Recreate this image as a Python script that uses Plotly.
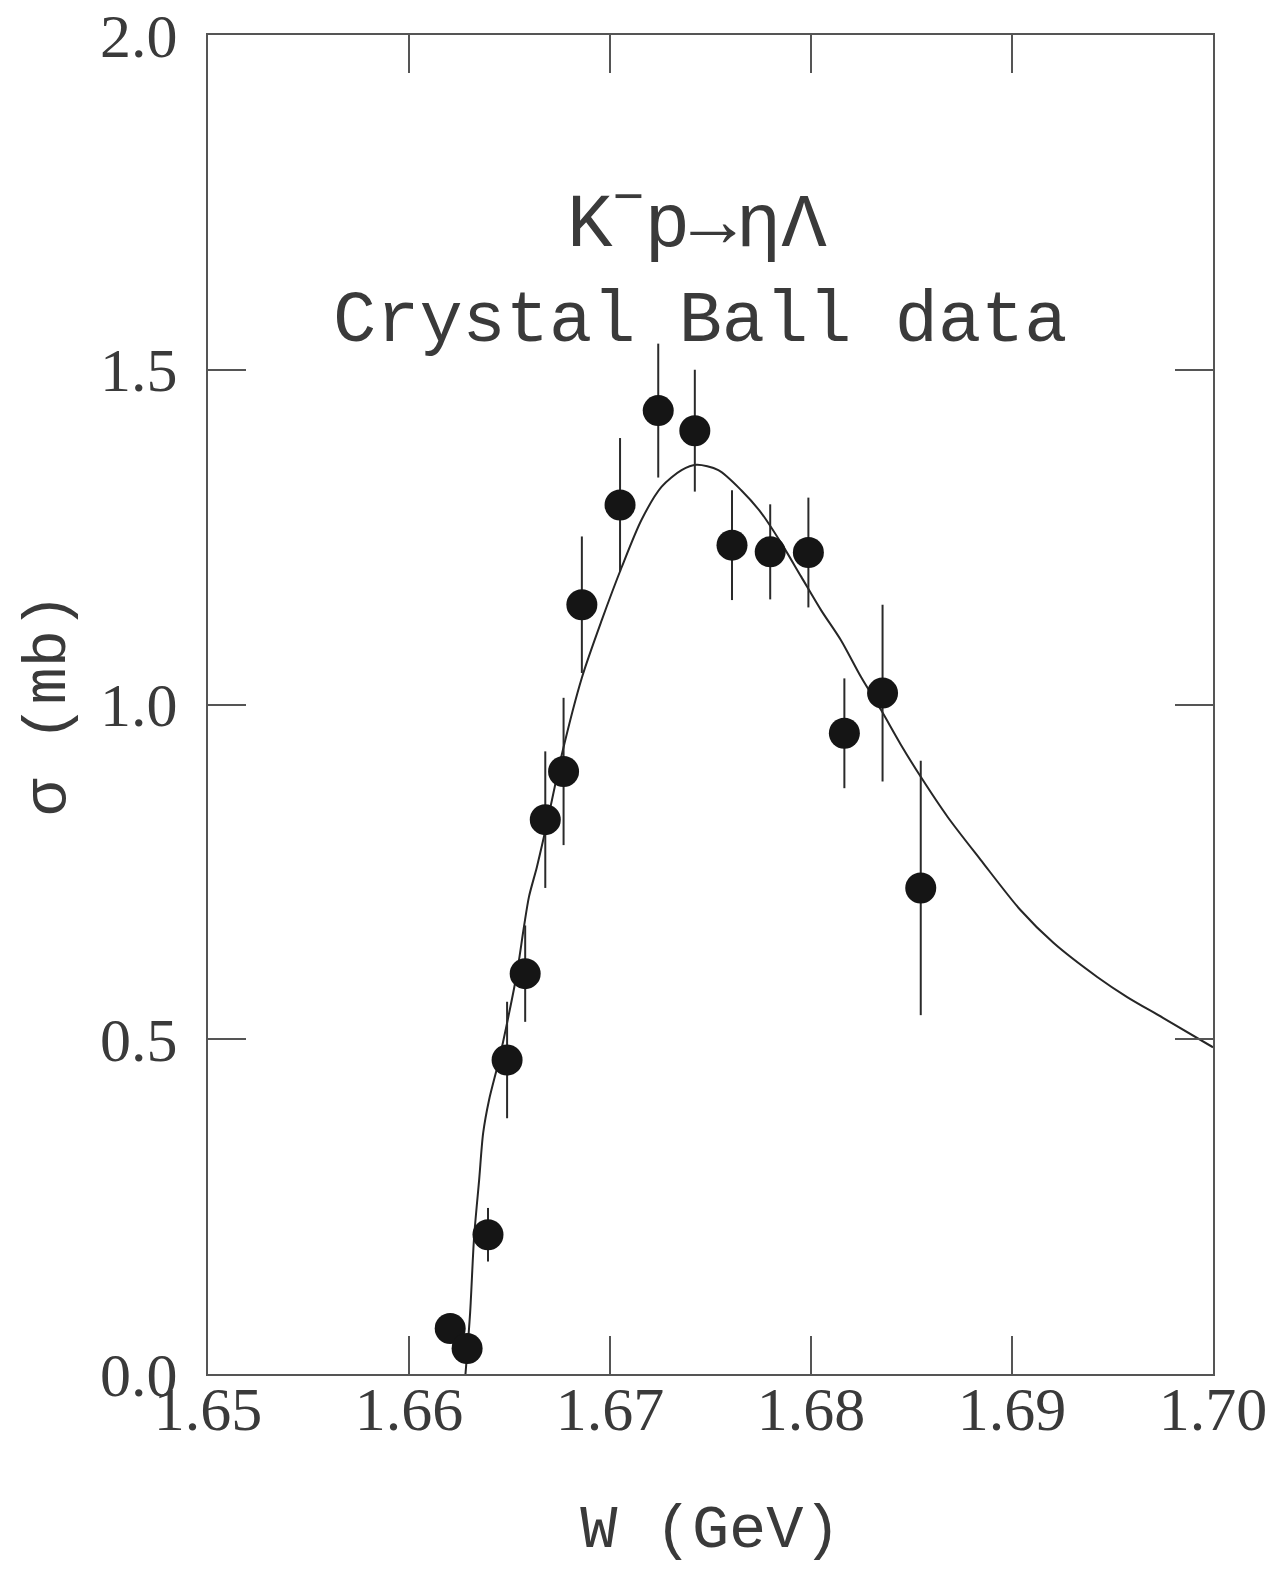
import plotly.graph_objects as go

# Measured cross sections for K- p -> eta Lambda (Crystal Ball)
w_gev = [1.66205, 1.66289, 1.66393, 1.66488, 1.66578, 1.66678, 1.66769, 1.66860,
         1.67050, 1.67240, 1.67422, 1.67607, 1.67797, 1.67987, 1.68166, 1.68356, 1.68546]
sigma_mb = [0.068, 0.038, 0.208, 0.469, 0.598, 0.828, 0.900, 1.149,
            1.298, 1.439, 1.409, 1.238, 1.228, 1.227, 0.957, 1.017, 0.726]
sigma_err = [0.0, 0.0, 0.040, 0.087, 0.072, 0.102, 0.110, 0.102,
             0.100, 0.100, 0.091, 0.082, 0.071, 0.082, 0.082, 0.132, 0.190]

# Fitted curve, sampled along W
fit_w = [1.66281, 1.66304, 1.66324, 1.66349, 1.66369, 1.66398, 1.66448, 1.66498,
         1.66537, 1.66572, 1.66597, 1.66636, 1.66671, 1.66711, 1.66760, 1.66860,
         1.66959, 1.67058, 1.67157, 1.67256, 1.67356, 1.67430, 1.67539, 1.67653,
         1.67753, 1.67852, 1.67951, 1.68050, 1.68149, 1.68249, 1.68348, 1.68447,
         1.68546, 1.68680, 1.68844, 1.69042, 1.69206, 1.69424, 1.69573, 1.69751, 1.70000]
fit_sigma = [0.000, 0.091, 0.205, 0.290, 0.360, 0.409, 0.469, 0.539,
             0.599, 0.668, 0.713, 0.757, 0.802, 0.857, 0.925, 1.040,
             1.126, 1.205, 1.276, 1.325, 1.350, 1.358, 1.350, 1.320,
             1.286, 1.241, 1.191, 1.141, 1.096, 1.041, 0.992, 0.940,
             0.892, 0.832, 0.768, 0.693, 0.644, 0.593, 0.563, 0.532, 0.488]

x_ticks = [1.65, 1.66, 1.67, 1.68, 1.69, 1.70]
x_tick_text = ["1.65", "1.66", "1.67", "1.68", "1.69", "1.70"]
y_ticks = [0.0, 0.5, 1.0, 1.5, 2.0]
y_tick_text = ["0.0", "0.5", "1.0", "1.5", "2.0"]

ink = "#3a3a3a"
serif = "Liberation Serif"
mono = "Liberation Mono"

fig = go.Figure()

fig.add_trace(go.Scatter(
    x=fit_w, y=fit_sigma, mode="lines",
    line=dict(color="#262626", width=2, shape="spline", smoothing=0.8),
    showlegend=False, hoverinfo="skip",
))

fig.add_trace(go.Scatter(
    x=w_gev, y=sigma_mb, mode="markers",
    marker=dict(color="#151515", size=31, line=dict(width=0)),
    error_y=dict(type="data", array=sigma_err, visible=True,
                 color="#2a2a2a", thickness=2, width=0),
    showlegend=False,
))

axis_common = dict(
    showline=True, linecolor="#555555", linewidth=2, mirror="allticks",
    ticks="inside", ticklen=38, tickwidth=1.6, tickcolor="#555555",
    showgrid=False, zeroline=False, automargin=False,
    tickfont=dict(family=serif, size=62, color=ink),
)

fig.update_xaxes(
    range=[1.65, 1.70], tickvals=x_ticks, ticktext=x_tick_text,
    ticklabelstandoff=-20,
    title=dict(text="W (GeV)", font=dict(family=mono, size=62, color=ink), standoff=61),
    **axis_common,
)
fig.update_yaxes(
    range=[0.0, 2.0], tickvals=y_ticks, ticktext=y_tick_text,
    ticklabelstandoff=16,
    title=dict(text="σ (mb)", font=dict(family=mono, size=62, color=ink), standoff=14),
    **axis_common,
)

fig.add_annotation(
    x=0.487, y=0.862, xref="paper", yref="paper", showarrow=False,
    xanchor="center", yanchor="middle",
    text="K<sup>−</sup>p→ηΛ",
    font=dict(family=mono, size=76, color=ink),
)
fig.add_annotation(
    x=0.4896, y=0.786, xref="paper", yref="paper", showarrow=False,
    xanchor="center", yanchor="middle",
    text="Crystal Ball data",
    font=dict(family=mono, size=72, color=ink),
)

fig.update_layout(
    width=1269, height=1572,
    margin=dict(l=208, r=56, t=35, b=198),
    paper_bgcolor="white", plot_bgcolor="white",
)

fig.write_html("out.html")
